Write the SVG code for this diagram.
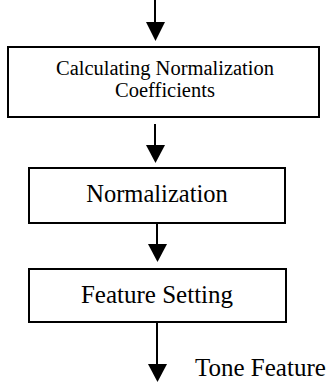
<svg xmlns="http://www.w3.org/2000/svg" width="330" height="384" viewBox="0 0 330 384">
<style>
.box{fill:#fff;stroke:#000;stroke-width:2}
.t{font-family:"Liberation Serif","Times New Roman",serif;fill:#000;text-anchor:middle}
.conn line{stroke:#000;stroke-width:2}
.conn polygon{fill:#000}
</style>
<rect width="330" height="384" fill="#fff"/>
<g id="connectors" class="conn">
<line x1="155" y1="0" x2="155" y2="24"/>
<polygon points="146,22 165,22 155.5,41"/>
<line x1="155" y1="124" x2="155" y2="147"/>
<polygon points="146,145 165,145 155.5,163"/>
<line x1="157" y1="223" x2="157" y2="246"/>
<polygon points="148,244 167,244 157.5,262"/>
<line x1="157" y1="322" x2="157" y2="366"/>
<polygon points="148,364 167,364 157.5,382"/>
</g>
<g id="node-coefficients">
<rect class="box" x="8" y="47" width="311" height="70"/>
<text class="t" x="165" y="75" font-size="20.5">Calculating Normalization</text>
<text class="t" x="165" y="97" font-size="20.5">Coefficients</text>
</g>
<g id="node-normalization">
<rect class="box" x="29" y="168" width="256" height="55"/>
<text class="t" x="157" y="202" font-size="24.5">Normalization</text>
</g>
<g id="node-feature-setting">
<rect class="box" x="29" y="269" width="257" height="53"/>
<text class="t" x="157" y="303" font-size="25">Feature Setting</text>
</g>
<g id="label-tone-feature">
<text class="t" x="195" y="376" font-size="25" style="text-anchor:start">Tone Feature</text>
</g>
</svg>
